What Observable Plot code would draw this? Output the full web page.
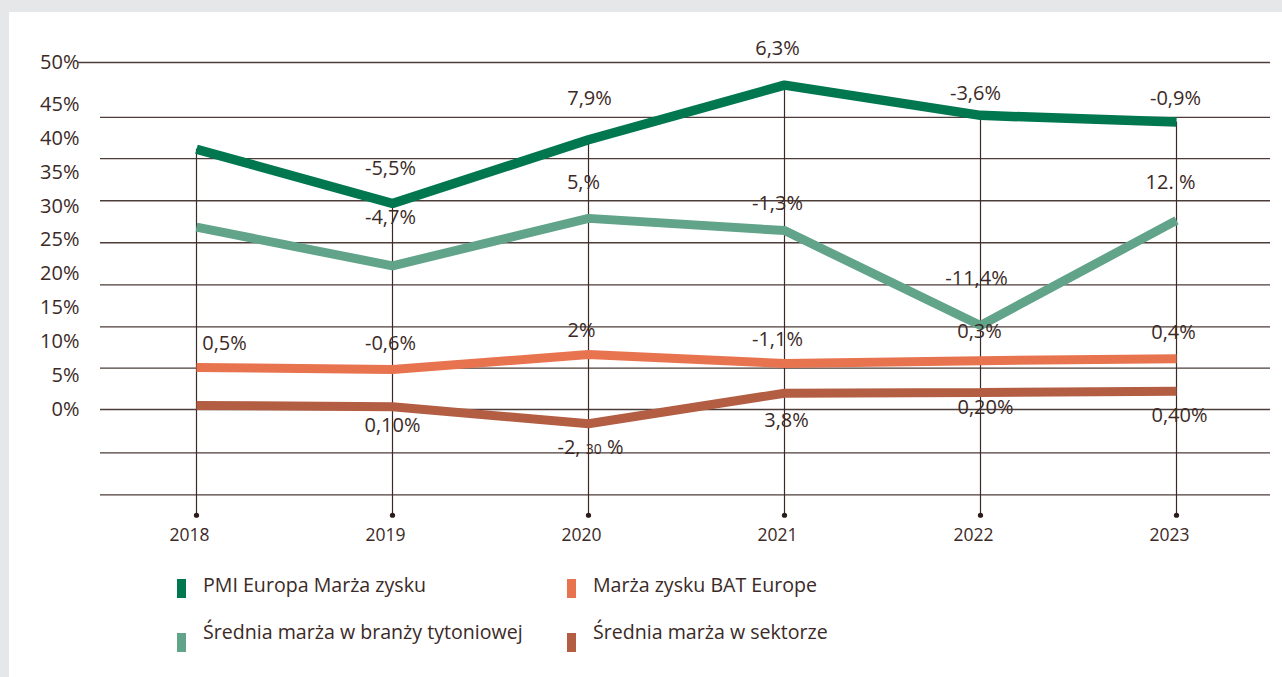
<!DOCTYPE html>
<html>
<head>
<meta charset="utf-8">
<script src="https://cdn.jsdelivr.net/npm/d3@7"></script>
<script src="https://cdn.jsdelivr.net/npm/@observablehq/plot@0.6"></script>
<style>
  html, body { margin: 0; padding: 0; }
  body { width: 1282px; height: 677px; background: #e6e7e9; position: relative; overflow: hidden; font-family: "Open Sans", sans-serif; }
  #card { position: absolute; left: 9px; top: 12px; width: 1273px; height: 665px; background: #ffffff; }
  #chart { position: absolute; left: 0; top: 0; }
  .sw { position: absolute; width: 9px; height: 19px; }
  .lt { position: absolute; font-size: 19.6px; color: #3b2a26; line-height: 20px; white-space: nowrap; }
</style>
</head>
<body>
<div id="card"></div>
<div id="chart"></div>
<div id="legend"></div>
<script>
// ---- data ----
const years = [2018, 2019, 2020, 2021, 2022, 2023];
const pmi     = [38.4, 30.4, 39.8, 47.3, 43.4, 42.4];
const tobacco = [26.9, 21.2, 28.2, 26.4, 12.4, 27.9];
const bat     = [6.2, 5.9, 8.1, 6.8, 7.2, 7.5];
const sector  = [0.6, 0.4, -2.1, 2.4, 2.5, 2.7];

const pmiLabels     = [null, "-5,5%", "7,9%", "6,3%", "-3,6%", "-0,9%"];
const tobaccoLabels = [null, "-4,7%", "5,%", "-1,3%", "-11,4%", "12. %"];
const batLabels     = ["0,5%", "-0,6%", "2%", "-1,1%", "0,3%", "0,4%"];
const sectorLabels  = [null, "0,10%", "-2, 30 %", "3,8%", "0,20%", "0,40%"];

const seriesNames = ["PMI Europa Marża zysku", "Średnia marża w branży tytoniowej", "Marża zysku BAT Europe", "Średnia marża w sektorze"];
const seriesColors = ["#00774f", "#61a48a", "#e8734f", "#b35d43"];

const yTicks = [0, 5, 10, 15, 20, 25, 30, 35, 40, 45, 50];
const gridValues = [-12.6, -6.4, 0, 6.1, 12.2, 18.4, 24.6, 30.8, 37, 43.1];
const topLine = 50;
const baseValue = -15.6;

// ---- layout offsets for annotations (pixels) ----
const offsets = {
  pmi:     [null, [-2, -35], [1, -41], [-7, -37], [-5, -22], [-1, -24]],
  tobacco: [null, [-2, -48], [-5, -36], [-7, -27], [-4, -47], [-6, -38]],
  bat:     [[28, -24], [-2, -26], [-7, -24], [-7, -24], [-1, -29], [-3, -26]],
  sector:  [null, [0, 19], [2, 24], [2, 27], [5, 15], [3, 24]]
};

const ink = "#3b2a26";
const gridInk = "#4d3d39";

const series = [
  {key: "pmi", values: pmi, labels: pmiLabels, color: seriesColors[0]},
  {key: "tobacco", values: tobacco, labels: tobaccoLabels, color: seriesColors[1]},
  {key: "bat", values: bat, labels: batLabels, color: seriesColors[2]},
  {key: "sector", values: sector, labels: sectorLabels, color: seriesColors[3]}
];

const marks = [];
marks.push(Plot.ruleY(gridValues, {stroke: gridInk, strokeWidth: 1.3}));
marks.push(Plot.ruleY([topLine], {stroke: gridInk, strokeWidth: 1.3, insetLeft: -22}));
const ruleData = years.map((y, i) => ({year: y, top: pmi[i], bottom: baseValue}));
marks.push(Plot.ruleX(ruleData, {x: "year", y1: "top", y2: "bottom", stroke: ink, strokeWidth: 1.2}));
marks.push(Plot.dot(ruleData, {x: "year", y: "bottom", r: 2.6, fill: "#2a1c18", stroke: null}));
for (const s of [series[3], series[2], series[1], series[0]]) {
  const data = years.map((y, i) => ({year: y, v: s.values[i]}));
  marks.push(Plot.line(data, {x: "year", y: "v", stroke: s.color, strokeWidth: s.key === "pmi" ? 9.5 : 9, strokeLinecap: "butt", strokeLinejoin: "miter"}));
}
for (const s of series) {
  s.labels.forEach((lab, i) => {
    if (!lab) return;
    const [dx, dy] = offsets[s.key][i];
    marks.push(Plot.text([{year: years[i], v: s.values[i], t: lab}], {
      x: "year", y: "v", text: "t", dx, dy, fontSize: 20, fill: ink
    }));
  });
}
marks.push(Plot.axisY(yTicks, {tickSize: 0, tickPadding: 21, fontSize: 20, fill: ink, tickFormat: d => d + "%", label: null}));
marks.push(Plot.axisX(years, {tickSize: 0, tickPadding: 33, dx: -7, fontSize: 17.5, fill: ink, tickFormat: d => String(d), label: null}));

const chart = Plot.plot({
  width: 1282,
  height: 560,
  marginLeft: 100,
  marginRight: 12,
  marginTop: 0,
  marginBottom: 65,
  style: {background: "transparent", fontFamily: "'Open Sans', sans-serif", color: ink, overflow: "visible"},
  x: {type: "point", domain: years, range: [194, 1177], padding: 0, axis: null},
  y: {type: "linear", domain: [0, 45, 50], range: [409, 104, 62], axis: null},
  marks
});
document.getElementById("chart").appendChild(chart);

d3.select(chart).selectAll("text").filter(function() { return this.textContent === "-2, 30 %"; }).each(function() {
  const t = d3.select(this);
  t.text(null);
  t.append("tspan").text("-2, ");
  t.append("tspan").attr("font-size", 14).text("30");
  t.append("tspan").text(" %");
});

const legend = document.getElementById("legend");
const legendPos = [
  {sx: 177, sy: 579, tx: 203, ty: 575},
  {sx: 177, sy: 633, tx: 203, ty: 622},
  {sx: 567, sy: 579, tx: 593, ty: 575},
  {sx: 567, sy: 633, tx: 593, ty: 622}
];
seriesNames.forEach((name, i) => {
  const p = legendPos[i];
  const sw = document.createElement("div");
  sw.className = "sw";
  sw.style.left = p.sx + "px"; sw.style.top = p.sy + "px";
  sw.style.background = seriesColors[i];
  legend.appendChild(sw);
  const t = document.createElement("div");
  t.className = "lt";
  t.style.left = p.tx + "px"; t.style.top = p.ty + "px";
  t.textContent = name;
  legend.appendChild(t);
});
</script>
</body>
</html>
